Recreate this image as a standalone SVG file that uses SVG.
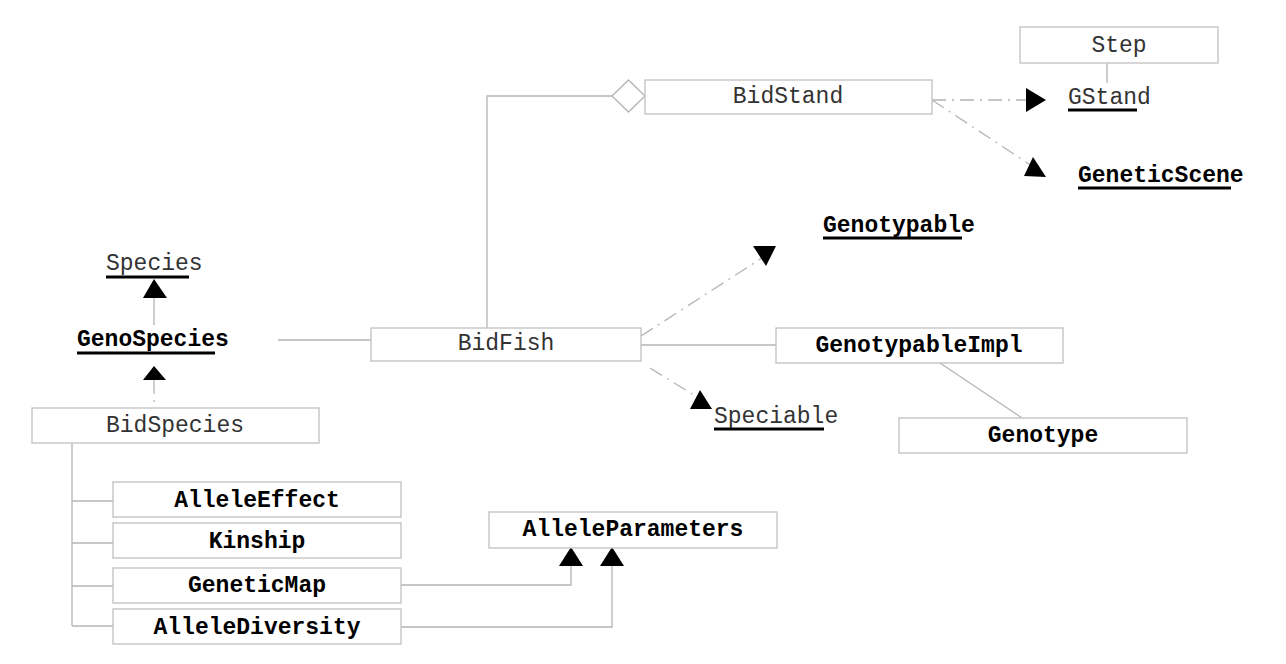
<svg xmlns="http://www.w3.org/2000/svg" width="1286" height="664" viewBox="0 0 1286 664">
<style>
.box{fill:#fff;stroke:#c0c0c0;stroke-width:1.3}
.t{font-family:"Liberation Mono","Courier New",monospace;font-size:23px;fill:#333}
.b{font-family:"Liberation Mono","Courier New",monospace;font-size:23px;font-weight:bold;fill:#000}
.c{text-anchor:middle}
.ln{fill:none;stroke:#b4b4b4;stroke-width:1.3}
.dl{fill:none;stroke:#b4b4b4;stroke-width:1.3;stroke-dasharray:14 6 2 6}
.ul{stroke:#000;stroke-width:3}
.ah{fill:#000}
</style>
<rect width="1286" height="664" fill="#fff"/>
<g id="connectors">
  <polyline class="ln" points="612,96 487,96 487,328"/>
  <polygon points="612,96 628.5,80 645,96 628.5,112" fill="#fff" stroke="#b4b4b4" stroke-width="1.3"/>
  <line class="ln" x1="1107" y1="63" x2="1107" y2="83"/>
  <line class="dl" x1="932" y1="100" x2="1026" y2="100"/>
  <polygon class="ah" points="1026,88 1046,100 1026,112"/>
  <line class="dl" x1="932" y1="100" x2="1035" y2="168"/>
  <polygon class="ah" points="1033,157 1024,176 1046,177"/>
  <line class="ln" x1="154" y1="298" x2="154" y2="325"/>
  <polygon class="ah" points="154,279 143,298 167,298"/>
  <line class="dl" x1="154" y1="380" x2="154" y2="408"/>
  <polygon class="ah" points="154,366 143,380 166,380"/>
  <line class="ln" x1="278" y1="340" x2="371" y2="340"/>
  <line class="dl" x1="641" y1="336" x2="762" y2="258"/>
  <polygon class="ah" points="753,246 776,246 766,266"/>
  <line class="dl" x1="650" y1="368" x2="697" y2="397"/>
  <polygon class="ah" points="700,390 690,409 712,409"/>
  <line class="ln" x1="641" y1="345" x2="776" y2="345"/>
  <line class="ln" x1="940" y1="363" x2="1022" y2="418"/>
  <polyline class="ln" points="72,443 72,626"/>
  <line class="ln" x1="72" y1="501" x2="113" y2="501"/>
  <line class="ln" x1="72" y1="543" x2="113" y2="543"/>
  <line class="ln" x1="72" y1="586" x2="113" y2="586"/>
  <line class="ln" x1="72" y1="626" x2="113" y2="626"/>
  <polyline class="ln" points="401,585 571,585 571,566"/>
  <polygon class="ah" points="571,547 559,566 583,566"/>
  <polyline class="ln" points="401,627 612,627 612,566"/>
  <polygon class="ah" points="612,547 600,566 624,566"/>
</g>
<g id="BidStand"><rect class="box" x="645" y="80" width="287" height="34"/><text class="t c" x="788" y="103">BidStand</text></g>
<g id="Step"><rect class="box" x="1020" y="27" width="198" height="36"/><text class="t c" x="1119" y="52">Step</text></g>
<g id="GStand"><text class="t" x="1068" y="104">GStand</text><line class="ul" x1="1068" y1="110" x2="1137" y2="110"/></g>
<g id="GeneticScene"><text class="b" x="1078" y="182">GeneticScene</text><line class="ul" x1="1078" y1="188" x2="1231" y2="188"/></g>
<g id="Genotypable"><text class="b" x="823" y="232">Genotypable</text><line class="ul" x1="823" y1="238" x2="962" y2="238"/></g>
<g id="Species"><text class="t" x="106" y="270">Species</text><line class="ul" x1="106" y1="277" x2="189" y2="277"/></g>
<g id="GenoSpecies"><text class="b" x="77" y="346">GenoSpecies</text><line class="ul" x1="77" y1="353" x2="215" y2="353"/></g>
<g id="BidSpecies"><rect class="box" x="32" y="408" width="287" height="35"/><text class="t c" x="175" y="432">BidSpecies</text></g>
<g id="BidFish"><rect class="box" x="371" y="328" width="270" height="33"/><text class="t c" x="506" y="350">BidFish</text></g>
<g id="Speciable"><text class="t" x="714" y="423">Speciable</text><line class="ul" x1="714" y1="429" x2="824" y2="429"/></g>
<g id="GenotypableImpl"><rect class="box" x="776" y="328" width="287" height="35"/><text class="b c" x="919" y="352">GenotypableImpl</text></g>
<g id="Genotype"><rect class="box" x="899" y="418" width="288" height="35"/><text class="b c" x="1043" y="442">Genotype</text></g>
<g id="AlleleEffect"><rect class="box" x="113" y="482" width="288" height="35"/><text class="b c" x="257" y="507">AlleleEffect</text></g>
<g id="Kinship"><rect class="box" x="113" y="523" width="288" height="35"/><text class="b c" x="257" y="548">Kinship</text></g>
<g id="GeneticMap"><rect class="box" x="113" y="568" width="288" height="35"/><text class="b c" x="257" y="592">GeneticMap</text></g>
<g id="AlleleDiversity"><rect class="box" x="113" y="609" width="288" height="35"/><text class="b c" x="257" y="634">AlleleDiversity</text></g>
<g id="AlleleParameters"><rect class="box" x="489" y="512" width="288" height="36"/><text class="b c" x="633" y="536">AlleleParameters</text></g>
</svg>
